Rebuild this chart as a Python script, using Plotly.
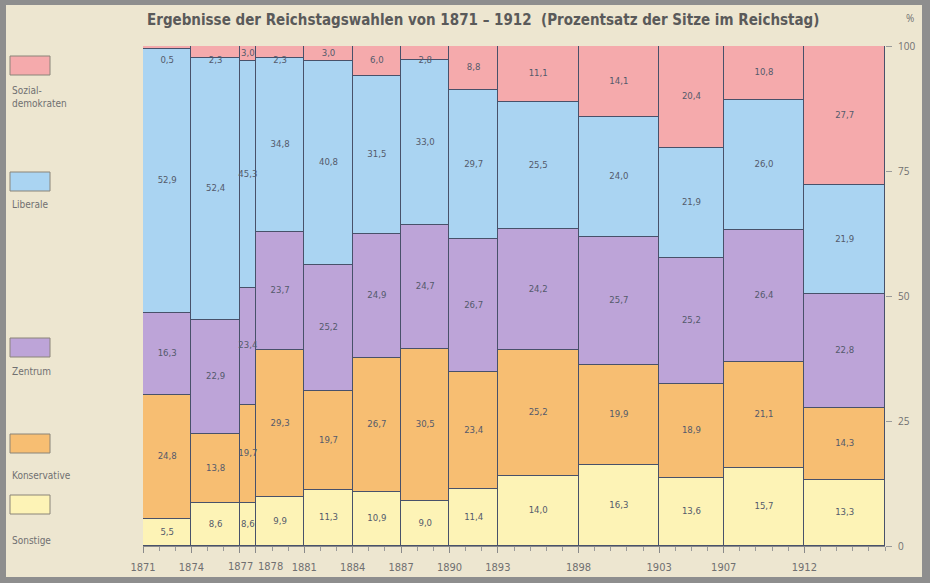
import plotly.graph_objects as go

# ---------------- data ----------------
years = [1871, 1874, 1877, 1878, 1881, 1884, 1887, 1890, 1893, 1898, 1903, 1907, 1912]
year_labels = ["1871", "1874", "", "", "1881", "1884", "1887",
               "1890", "1893", "1898", "1903", "1907", "1912"]
end_year = 1917
sonstige = [5.5, 8.6, 8.6, 9.9, 11.3, 10.9, 9.0, 11.4, 14.0, 16.3, 13.6, 15.7, 13.3]
konservative = [24.8, 13.8, 19.7, 29.3, 19.7, 26.7, 30.5, 23.4, 25.2, 19.9, 18.9, 21.1, 14.3]
zentrum = [16.3, 22.9, 23.4, 23.7, 25.2, 24.9, 24.7, 26.7, 24.2, 25.7, 25.2, 26.4, 22.8]
liberale = [52.9, 52.4, 45.3, 34.8, 40.8, 31.5, 33.0, 29.7, 25.5, 24.0, 21.9, 26.0, 21.9]
spd = [0.5, 2.3, 3.0, 2.3, 3.0, 6.0, 2.8, 8.8, 11.1, 14.1, 20.4, 10.8, 27.7]
y_ticks = [0, 25, 50, 75, 100]

series = [
    ("Sonstige", sonstige, "#fdf3b6"),
    ("Konservative", konservative, "#f7be72"),
    ("Zentrum", zentrum, "#bda4d8"),
    ("Liberale", liberale, "#aad4f2"),
    ("Sozial-<br>demokraten", spd, "#f5aaac"),
]

# ---------------- geometry ----------------
W, H = 930, 583
L, R, T, B = 143, 45, 46, 37
PW, PH = W - L - R, H - T - B

NARROW = "Liberation Sans Narrow, DejaVu Sans Condensed, Arial Narrow, sans-serif"
AXCOL = "#707070"


def px(x):
    return (x - L) / PW


def py(y):
    return (H - B - y) / PH


starts = years
ends = years[1:] + [end_year]
mids = [(a + b) / 2 for a, b in zip(starts, ends)]
widths = [b - a for a, b in zip(starts, ends)]

fig = go.Figure()
edge = "#48516a"
label_col = "#545a6b"
base = [0.0] * len(years)
lab_x, lab_y, lab_t = [], [], []
for name, vals, col in series:
    fig.add_trace(go.Bar(
        x=mids, y=vals, width=widths, name=name,
        marker=dict(color=col, line=dict(color=edge, width=1.4)),
        hoverinfo="skip", showlegend=False,
    ))
    for i, v in enumerate(vals):
        c = base[i] + v / 2
        if name.startswith("Sozial") and v < 2.9:
            c = 97.0
        lab_x.append(mids[i])
        lab_y.append(c)
        lab_t.append(f"{v:.1f}".replace(".", ","))
        base[i] += v

fig.add_trace(go.Scatter(
    x=lab_x, y=lab_y, text=lab_t, mode="text",
    textfont=dict(size=9.5, color=label_col, family=NARROW),
    hoverinfo="skip", showlegend=False, cliponaxis=False,
))

shapes = [
    dict(type="rect", xref="paper", yref="paper", layer="below",
         x0=px(6), x1=px(922), y0=py(577), y1=py(5),
         fillcolor="#ede6d0", line=dict(width=0)),
]
annotations = []

leg = [
    ("Sozial-<br>demokraten", "#f5aaac", 56, 83),
    ("Liberale", "#aad4f2", 172, 197),
    ("Zentrum", "#bda4d8", 338, 364),
    ("Konservative", "#f7be72", 434, 468),
    ("Sonstige", "#fdf3b6", 495, 533),
]
for text, col, sy, ty in leg:
    shapes.append(dict(type="rect", xref="paper", yref="paper",
                       x0=px(10), x1=px(50), y0=py(sy + 19), y1=py(sy),
                       fillcolor=col, line=dict(color="#8a8478", width=1)))
    annotations.append(dict(xref="paper", yref="paper", x=px(10), y=py(ty),
                            xanchor="left", yanchor="top", align="left",
                            text=text, showarrow=False,
                            font=dict(size=10, color=AXCOL, family=NARROW)))

# the two crowded year labels 1877 / 1878
annotations.append(dict(xref="x", yref="paper", x=years[2], y=py(566), xshift=15,
                        xanchor="right", yanchor="middle", showarrow=False,
                        text=str(years[2]), font=dict(size=11, color=AXCOL, family=NARROW)))
annotations.append(dict(xref="x", yref="paper", x=years[3], y=py(566), xshift=0,
                        xanchor="left", yanchor="middle", showarrow=False,
                        text=str(years[3]), font=dict(size=11, color=AXCOL, family=NARROW)))

annotations.append(dict(xref="paper", yref="paper", x=px(483), y=py(20),
                        xanchor="center", yanchor="middle", showarrow=False,
                        text="<b>Ergebnisse der Reichstagswahlen von 1871 – 1912  (Prozentsatz der Sitze im Reichstag)</b>",
                        font=dict(size=15, color="#5a5a5a", family=NARROW)))
annotations.append(dict(xref="paper", yref="paper", x=px(910), y=py(18),
                        xanchor="center", yanchor="middle", showarrow=False,
                        text="%", font=dict(size=10, color=AXCOL)))

fig.update_layout(
    width=W, height=H,
    margin=dict(l=L, r=R, t=T, b=B, pad=0, autoexpand=False),
    paper_bgcolor="#8e8e8e",
    plot_bgcolor="rgba(0,0,0,0)",
    barmode="stack", bargap=0,
    shapes=shapes, annotations=annotations,
    xaxis=dict(range=[years[0], end_year], tickvals=years, ticktext=year_labels,
               tickangle=0, automargin=False, ticklabelstandoff=5,
               showgrid=False, zeroline=False, showline=True, linecolor="#8a8a8a", linewidth=1,
               ticks="outside", ticklen=6, tickcolor="#8a8a8a",
               minor=dict(dtick=1, tick0=1871, ticks="outside", ticklen=4, tickcolor="#9a9a9a"),
               tickfont=dict(size=11, color=AXCOL, family=NARROW),
               fixedrange=True),
    yaxis=dict(range=[0, 100], side="right", tickvals=y_ticks, showgrid=False, zeroline=False,
               automargin=False, ticklabelstandoff=4,
               showline=False, ticks="outside", ticklen=6, tickcolor="#9a9a9a",
               tickfont=dict(size=10, color=AXCOL), fixedrange=True),
)

fig.write_html("out.html", config={"displayModeBar": False},
               post_script="document.body.style.margin='0';")
